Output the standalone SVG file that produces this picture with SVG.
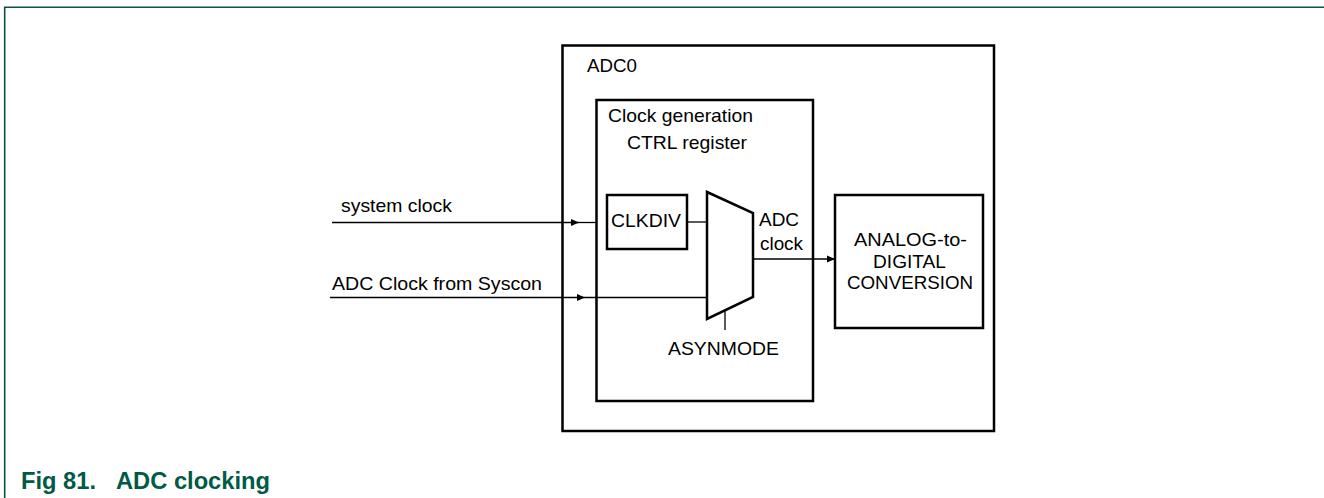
<svg xmlns="http://www.w3.org/2000/svg" width="1324" height="498" viewBox="0 0 1324 498">
  <style>
    .box { fill: none; stroke: #000; stroke-width: 2.5; }
    .wire { fill: none; stroke: #000; stroke-width: 1.3; }
    .lbl { font-family: "Liberation Sans", Arial, sans-serif; font-size: 18.5px; fill: #000; }
    .mid { text-anchor: middle; }
    .cap { font-family: "Liberation Sans", Arial, sans-serif; font-size: 23.7px; font-weight: bold; fill: #005a46; }
  </style>
  <defs>
    <marker id="arr" markerUnits="userSpaceOnUse" markerWidth="10" markerHeight="8" refX="8" refY="4" orient="auto">
      <path d="M0,0.5 L8,4 L0,7.5 Z" fill="#000"/>
    </marker>
  </defs>
  <rect width="1324" height="498" fill="#fff"/>
  <g id="frame">
    <path d="M4.7,498 V7.3 H1324" fill="none" stroke="#0d5440" stroke-width="1.6"/>
  </g>
  <g id="adc0">
    <rect class="box" x="562.5" y="45.5" width="431.5" height="385.5"/>
    <text class="lbl" x="587" y="72" textLength="50" lengthAdjust="spacingAndGlyphs">ADC0</text>
  </g>
  <g id="clockgen">
    <rect class="box" x="596.5" y="100" width="216.5" height="301"/>
    <text class="lbl" x="608" y="122" textLength="145" lengthAdjust="spacingAndGlyphs">Clock generation</text>
    <text class="lbl" x="627" y="149" textLength="120" lengthAdjust="spacingAndGlyphs">CTRL register</text>
  </g>
  <g id="clkdiv">
    <rect class="box" x="607" y="195" width="80" height="54"/>
    <text class="lbl" x="611" y="227" textLength="70" lengthAdjust="spacingAndGlyphs">CLKDIV</text>
  </g>
  <g id="mux">
    <polygon points="707,192 753,213 753,297 707,319" fill="#fff" stroke="#000" stroke-width="2.5" stroke-linejoin="miter"/>
    <text class="lbl" x="759" y="226" textLength="40" lengthAdjust="spacingAndGlyphs">ADC</text>
    <text class="lbl" x="760" y="250" textLength="43" lengthAdjust="spacingAndGlyphs">clock</text>
  </g>
  <g id="adc-conv">
    <rect class="box" x="835" y="195" width="148" height="133"/>
    <text class="lbl" x="854" y="246" textLength="113" lengthAdjust="spacingAndGlyphs">ANALOG-to-</text>
    <text class="lbl" x="873" y="268" textLength="73" lengthAdjust="spacingAndGlyphs">DIGITAL</text>
    <text class="lbl" x="847" y="289" textLength="126" lengthAdjust="spacingAndGlyphs">CONVERSION</text>
  </g>
  <g id="asynmode">
    <text class="lbl" x="668" y="355" textLength="111" lengthAdjust="spacingAndGlyphs">ASYNMODE</text>
  </g>
  <g id="inputs">
    <text class="lbl" x="341" y="212" textLength="111" lengthAdjust="spacingAndGlyphs">system clock</text>
    <text class="lbl" x="332" y="290" textLength="210" lengthAdjust="spacingAndGlyphs">ADC Clock from Syscon</text>
  </g>
  <g id="connectors">
    <line class="wire" x1="332" y1="222.5" x2="579" y2="222.5" marker-end="url(#arr)"/>
    <line class="wire" x1="579" y1="222.5" x2="596" y2="222.5"/>
    <line class="wire" x1="687" y1="222" x2="707" y2="222"/>
    <line class="wire" x1="330" y1="297.5" x2="585" y2="297.5" marker-end="url(#arr)"/>
    <line class="wire" x1="585" y1="297.5" x2="707" y2="297.5"/>
    <line class="wire" x1="753" y1="259" x2="835" y2="259" marker-end="url(#arr)"/>
    <line class="wire" x1="725" y1="310.5" x2="725" y2="330"/>
  </g>
  <g id="caption">
    <text class="cap" x="21" y="489">Fig 81.</text>
    <text class="cap" x="116" y="489">ADC clocking</text>
  </g>
</svg>
